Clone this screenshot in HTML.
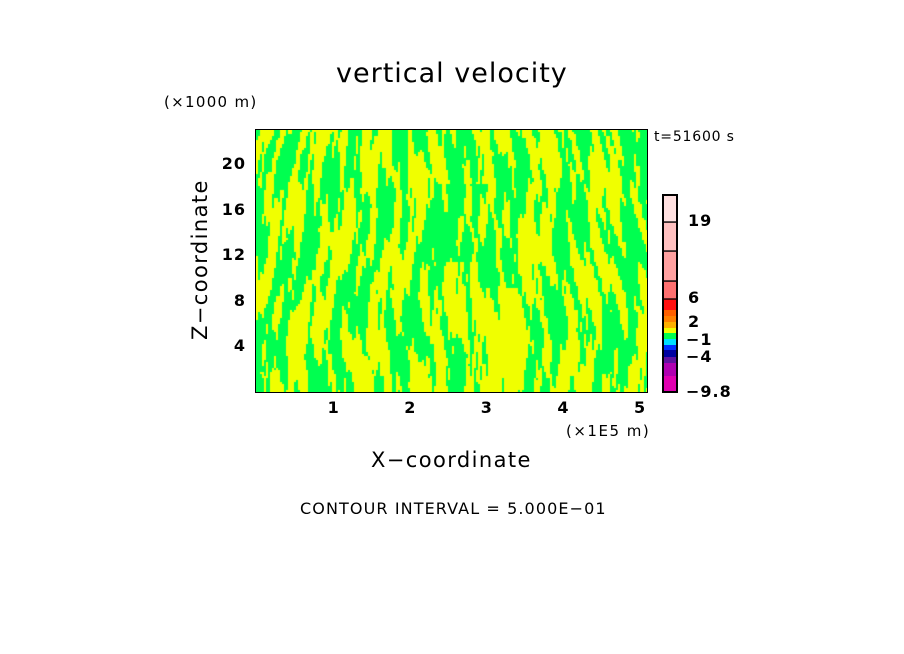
<!DOCTYPE html>
<html><head><meta charset="utf-8"><style>
html,body{margin:0;padding:0;background:#fff;}
body{width:904px;height:654px;position:relative;overflow:hidden;font-family:"DejaVu Sans","Liberation Sans",sans-serif;}
.t{position:absolute;color:#000;white-space:nowrap;}
</style></head><body>
<div class="t" style="left:336px;top:58px;font-size:27px;letter-spacing:1px;">vertical velocity</div>
<div class="t" style="left:164px;top:93px;font-size:15px;letter-spacing:1.3px;">(×1000 m)</div>
<div class="t" style="left:654px;top:129px;font-size:14px;letter-spacing:0.8px;">t=51600 s</div>
<div class="t" style="left:566px;top:422px;font-size:15px;letter-spacing:1.5px;">(×1E5 m)</div>
<div class="t" style="left:371px;top:448px;font-size:21px;letter-spacing:1.4px;">X−coordinate</div>
<div class="t" style="left:188px;top:340px;font-size:21px;letter-spacing:1.4px;transform:rotate(-90deg);transform-origin:0 0;">Z−coordinate</div>
<div class="t" style="left:300px;top:499px;font-size:16px;letter-spacing:1.1px;">CONTOUR INTERVAL = 5.000E−01</div>
<canvas id="field" width="392" height="262" style="position:absolute;left:256px;top:130px;"></canvas>
<div style="position:absolute;left:255px;top:129px;width:391px;height:262px;border:1px solid #000;"></div>
<div id="ticks"></div>
<svg id="cbar" width="904" height="654" style="position:absolute;left:0;top:0;"></svg>
<script>
const xTicks=[1,2,3,4,5];
const yTicks=[4,8,12,16,20];
const cbColors=["#e000b0","#b000b0","#6010a0","#0000a0","#0030ff","#00e0ff","#00ff50","#f0ff00","#ffb000","#ff8000","#ff6000","#ff1010","#ff7070","#ffa0a0","#ffc0c0","#ffe0e0"];
const cbBounds=[392,376,363,357,350,345,339,333,328,322,316,310,299,281,251,222,195];
const cbLabels=["19","6","2","−1","−4","−9.8"];
const cbLabelY=[221,298,322,340,357,392];
const X0=256,XW=76.6,Y0=392,YH=11.4;
const xs=v=>X0+v*XW, ys=v=>Y0-v*YH;
const tk=document.getElementById('ticks');
xTicks.forEach(v=>{const d=document.createElement('div');d.className='t';


d.style.cssText='font-size:16px;font-weight:bold;top:398px;left:'+(xs(v)-5)+'px;';d.textContent=v;tk.appendChild(d);});
yTicks.forEach(v=>{const d=document.createElement('div');d.className='t';


d.style.cssText='font-size:16px;font-weight:bold;text-align:right;width:30px;left:216px;letter-spacing:1px;top:'+(ys(v)-10)+'px;';d.textContent=v;tk.appendChild(d);});
const svg=document.getElementById('cbar');const NS='http://www.w3.org/2000/svg';
cbColors.forEach((c,i)=>{const r=document.createElementNS(NS,'rect');


r.setAttribute('x',663);r.setAttribute('y',cbBounds[i+1]);r.setAttribute('width',14);r.setAttribute('height',cbBounds[i]-cbBounds[i+1]);r.setAttribute('fill',c);
if(i>=12){r.setAttribute('stroke','#000');r.setAttribute('stroke-width','1.3');}
svg.appendChild(r);});
const fr=document.createElementNS(NS,'rect');fr.setAttribute('x',663);fr.setAttribute('y',195);fr.setAttribute('width',14);fr.setAttribute('height',197);fr.setAttribute('fill','none');fr.setAttribute('stroke','#000');fr.setAttribute('stroke-width','2');svg.appendChild(fr);
cbLabels.forEach((l,i)=>{const t=document.createElementNS(NS,'text');


t.setAttribute('x',l[0]=='−'?686:688);t.setAttribute('y',cbLabelY[i]+5);t.setAttribute('font-size','16');t.setAttribute('font-weight','bold');t.setAttribute('letter-spacing','1');t.setAttribute('font-family','DejaVu Sans, sans-serif');t.textContent=l;svg.appendChild(t);});
// field
const cv=document.getElementById('field'),ctx=cv.getContext('2d');
const W=392,H=262;
for(let x=0;x<W;x+=2){for(let y=0;y<H;y+=2){
 const z=(H-y)/H, u=x/W;
 const tilt=(u-0.5)*1.6*(z);
 const xx=x+tilt*60*z;
 let v=Math.sin(xx*0.24+Math.sin(y*0.035+x*0.013)*2.5)
   +0.8*Math.sin(xx*0.09+y*0.027+1.3)
   +0.7*Math.sin(xx*0.47-y*0.017*(1+u))
   +0.5*Math.sin(x*0.035-y*0.06+2.0)
   +0.35*Math.sin(x*1.1+y*0.13)
   +0.3*Math.sin(x*0.7-y*0.2);
 if(u>0.55&&u<0.68&&z<0.4) v-=1.2;
 if(u>0.45&&u<0.6&&z>0.5&&z<0.8) v+=1.0;
 ctx.fillStyle=v>0.05?'#00ff50':'#f0ff00';
 ctx.fillRect(x,y,2,2);
}}
</script>
</body></html>
